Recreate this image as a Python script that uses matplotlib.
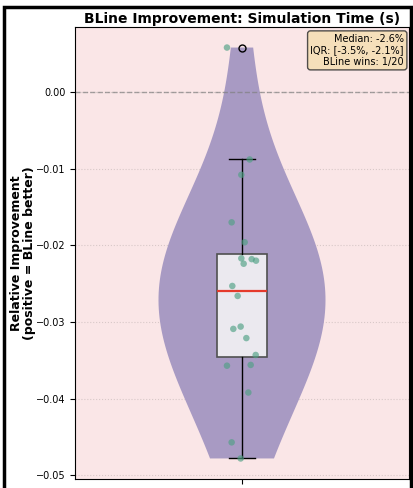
import numpy as np
import matplotlib
matplotlib.use("Agg")
import matplotlib.pyplot as plt
from matplotlib.patches import Rectangle

# relative improvement per run (BLine vs baseline), and horizontal jitter of each dot
improvement = np.array([0.0058, -0.0088, -0.0108, -0.0170, -0.0196, -0.0217, -0.0218,
                        -0.0220, -0.0224, -0.0253, -0.0266, -0.0306, -0.0309, -0.0321,
                        -0.0343, -0.0356, -0.0357, -0.0392, -0.0457, -0.0478])
jitter = np.array([-0.045, 0.023, -0.002, -0.031, 0.008, -0.002, 0.029,
                   0.042, 0.005, -0.029, -0.013, -0.004, -0.026, 0.013,
                   0.041, 0.026, -0.045, 0.019, -0.031, -0.004])

title = 'BLine Improvement: Simulation Time (s)'
ylabel = 'Relative Improvement\n(positive = BLine better)'

med = np.median(improvement)
q1, q3 = np.percentile(improvement, [25, 75])
wins = int((improvement > 0).sum())

fig = plt.figure(figsize=(4.13, 4.88), dpi=100)
ax = fig.add_axes([75/413, 1 - 479/488, 334/413, (479 - 27)/488])
ax.set_facecolor('#fae6e7')

vp = ax.violinplot(improvement, positions=[1], widths=0.5, showextrema=False,
                   bw_method=0.75)
for body in vp['bodies']:
    body.set_facecolor('#a89ac3')
    body.set_edgecolor('none')
    body.set_alpha(1.0)

ax.boxplot(improvement, positions=[1], widths=0.15, patch_artist=True,
           boxprops=dict(facecolor='#ebe9ef', edgecolor='#505050', linewidth=1.2),
           medianprops=dict(color='#e53a2c', linewidth=1.6),
           whiskerprops=dict(color='black', linewidth=1.0),
           capprops=dict(color='black', linewidth=1.0),
           flierprops=dict(marker='o', markerfacecolor='none', markeredgecolor='black',
                           markersize=5))

ax.scatter(1 + jitter, improvement, s=22, color='#4fa084', alpha=0.65, zorder=4,
           edgecolors='none')

ax.axhline(0, color='gray', linestyle='--', linewidth=1.0, alpha=0.7)
ax.yaxis.grid(True, linestyle=':', color='#d8c8c8', linewidth=0.8)
ax.set_axisbelow(True)

ax.set_xlim(0.5, 1.5)
ax.set_xticks([1])
ax.set_xticklabels([''])
ax.tick_params(labelsize=7)
ax.set_title(title, fontsize=10, fontweight='bold', pad=3)
ax.set_ylabel(ylabel, fontsize=9, fontweight='bold', linespacing=1.0)
ax.yaxis.set_label_coords(-0.118, 0.5)

stats = (f'Median: {med*100:.1f}%\n'
         f'IQR: [{q1*100:.1f}%, {q3*100:.1f}%]\n'
         f'BLine wins: {wins}/{len(improvement)}')
ax.text(0.985, 0.985, stats, transform=ax.transAxes, ha='right', va='top',
        fontsize=7, bbox=dict(boxstyle='round,pad=0.3', facecolor='wheat',
                              edgecolor='#333333', alpha=0.85))

# black frame around the panel
fig.add_artist(Rectangle((4/413, -0.05), 407/413, 1.05 - 7/488, transform=fig.transFigure,
                         fill=False, edgecolor='black', linewidth=2.5))

fig.savefig('out.png', dpi=100)
